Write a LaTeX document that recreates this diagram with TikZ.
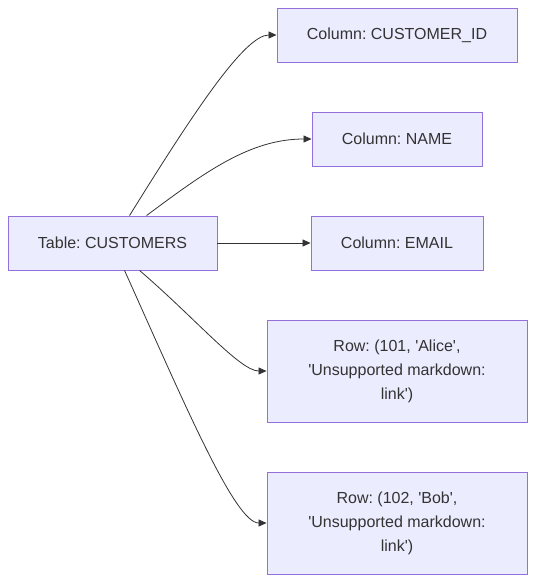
\documentclass[tikz,border=0pt]{standalone}
\usepackage{fontspec}
\setmainfont{Liberation Sans}
\usetikzlibrary{arrows.meta,calc}
\definecolor{nodefill}{HTML}{ECECFF}
\definecolor{nodeline}{HTML}{9370DB}
\definecolor{txt}{HTML}{333333}
\frenchspacing
\newcommand{\sq}{\textquotesingle}
\begin{document}
\begin{tikzpicture}[x=1pt,y=-1pt,
  box/.style={draw=nodeline,fill=nodefill,line width=0.9pt,inner sep=0pt,align=center,
    text=txt,font=\fontsize{16}{24}\selectfont},
  link/.style={draw=txt,line width=0.8pt,-{Triangle[length=8pt,width=7pt]}}]
\useasboundingbox (0,0) rectangle (535,582);
\node[box,minimum width=209pt,minimum height=54pt] (tab) at (112.5,243) {Table: CUSTOMERS};
\node[box,minimum width=240pt,minimum height=54pt] (cid) at (397,35) {Column: CUSTOMER\_ID};
\node[box,minimum width=170pt,minimum height=54pt] (cname) at (397,139) {Column: NAME};
\node[box,minimum width=172pt,minimum height=54pt] (cemail) at (397,243) {Column: EMAIL};
\node[box,minimum width=260pt,minimum height=102pt] (r1) at (397,371) {Row: (101, \sq Alice\sq,\\\sq Unsupported markdown:\\link\sq)};
\node[box,minimum width=260pt,minimum height=102pt] (r2) at (397,523) {Row: (102, \sq Bob\sq,\\\sq Unsupported markdown:\\link\sq)};
\coordinate (s1) at ($(tab.north west)+(122,0)$);
\coordinate (s2) at ($(tab.north west)+(139,0)$);
\coordinate (s4) at ($(tab.south west)+(132,0)$);
\coordinate (s5) at ($(tab.south west)+(117,0)$);
\draw[link] (s1) .. controls (195,110) and (245,35) .. (cid.west);
\draw[link] (s2) .. controls (205,172) and (250,139) .. (cname.west);
\draw[link] (tab.east) -- (cemail.west);
\draw[link] (s4) .. controls (195,318) and (240,371) .. (r1.west);
\draw[link] (s5) .. controls (185,405) and (235,523) .. (r2.west);
\end{tikzpicture}
\end{document}
